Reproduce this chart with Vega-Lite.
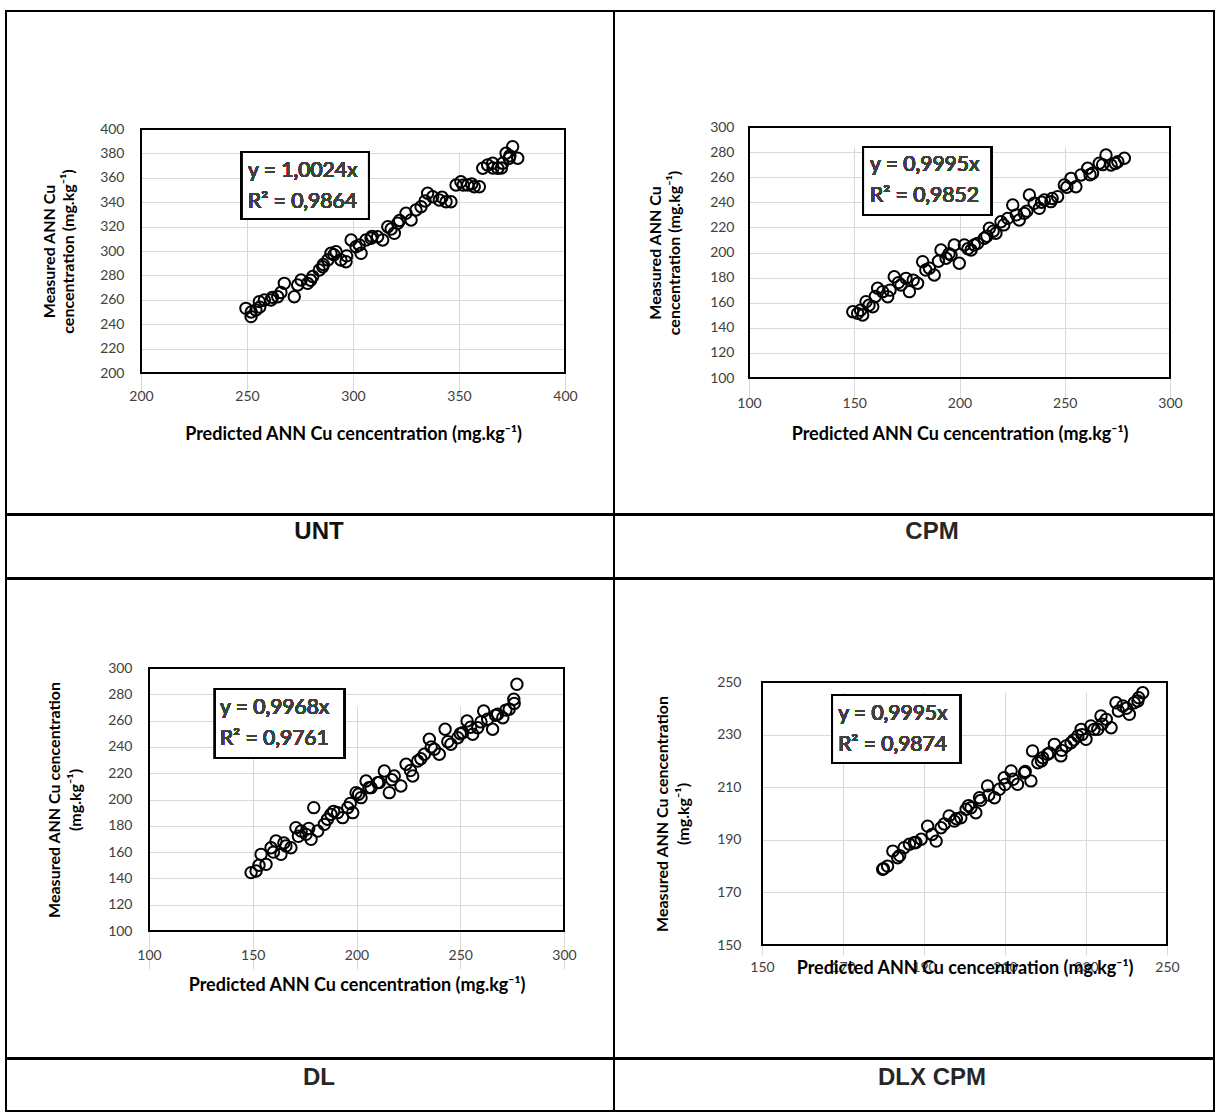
{
  "$schema": "https://vega.github.io/schema/vega-lite/v6.json",
  "background": "white",
  "padding": {"left": 5, "top": 10, "right": 3, "bottom": 3},
  "spacing": -2,
  "config": {
    "view": {"stroke": "black", "strokeWidth": 2},
    "axis": {"labelFont": "Lato", "labelFontSize": 14, "labelColor": "#404040", "titleFont": "Lato", "titleFontSize": 18, "titleFontWeight": "bold", "titleColor": "#000000", "domain": false, "ticks": false, "tickSize": 0, "grid": true, "gridColor": "#d9d9d9", "gridWidth": 1, "labelFlush": false, "labelOverlap": false},
    "axisY": {"titleFontSize": 16},
    "text": {"font": "Lato"}
  },
  "datasets": {
    "unt": [
      {"predicted": 249.5, "measured": 253.0}, {"predicted": 251.9, "measured": 246.2}, {"predicted": 254.2, "measured": 251.6}, {"predicted": 255.8, "measured": 258.5}, {"predicted": 258.2, "measured": 259.8}, {"predicted": 261.3, "measured": 259.8}, {"predicted": 264.5, "measured": 262.5}, {"predicted": 267.6, "measured": 273.5}, {"predicted": 272.3, "measured": 262.5}, {"predicted": 273.9, "measured": 272.1}, {"predicted": 275.5, "measured": 276.2}, {"predicted": 278.6, "measured": 273.5}, {"predicted": 281.0, "measured": 279.1}, {"predicted": 284.1, "measured": 284.4}, {"predicted": 285.7, "measured": 287.1}, {"predicted": 288.1, "measured": 292.6}, {"predicted": 289.6, "measured": 298.1}, {"predicted": 292.0, "measured": 299.4}, {"predicted": 294.3, "measured": 292.6}, {"predicted": 296.7, "measured": 291.2}, {"predicted": 299.1, "measured": 309.0}, {"predicted": 301.4, "measured": 303.5}, {"predicted": 303.8, "measured": 298.1}, {"predicted": 306.1, "measured": 309.0}, {"predicted": 308.5, "measured": 310.4}, {"predicted": 311.6, "measured": 311.7}, {"predicted": 314.0, "measured": 309.0}, {"predicted": 316.4, "measured": 319.9}, {"predicted": 319.5, "measured": 314.5}, {"predicted": 321.1, "measured": 322.7}, {"predicted": 325.0, "measured": 330.9}, {"predicted": 327.4, "measured": 325.4}, {"predicted": 329.7, "measured": 333.6}, {"predicted": 332.1, "measured": 336.3}, {"predicted": 335.2, "measured": 347.3}, {"predicted": 337.6, "measured": 344.5}, {"predicted": 340.7, "measured": 341.8}, {"predicted": 343.9, "measured": 340.4}, {"predicted": 346.2, "measured": 340.4}, {"predicted": 348.6, "measured": 354.1}, {"predicted": 350.9, "measured": 356.8}, {"predicted": 354.1, "measured": 354.1}, {"predicted": 357.2, "measured": 352.7}, {"predicted": 359.6, "measured": 352.7}, {"predicted": 361.2, "measured": 367.8}, {"predicted": 363.5, "measured": 370.5}, {"predicted": 365.9, "measured": 371.9}, {"predicted": 368.3, "measured": 367.8}, {"predicted": 370.6, "measured": 371.9}, {"predicted": 372.2, "measured": 380.1}, {"predicted": 375.3, "measured": 385.5}, {"predicted": 377.7, "measured": 376.0}, {"predicted": 373.7, "measured": 376.0},
      {"predicted": 252, "measured": 250}, {"predicted": 256, "measured": 254}, {"predicted": 262, "measured": 262}, {"predicted": 266, "measured": 266}, {"predicted": 280, "measured": 276}, {"predicted": 286, "measured": 289}, {"predicted": 291, "measured": 297}, {"predicted": 297, "measured": 296}, {"predicted": 303, "measured": 305}, {"predicted": 309, "measured": 312}, {"predicted": 318, "measured": 318}, {"predicted": 322, "measured": 325}, {"predicted": 334, "measured": 341}, {"predicted": 342, "measured": 344}, {"predicted": 352, "measured": 354}, {"predicted": 356, "measured": 355}, {"predicted": 366, "measured": 368}, {"predicted": 374, "measured": 378}, {"predicted": 370, "measured": 368}
    ],
    "cpm": [
      {"predicted": 149.3, "measured": 152.8}, {"predicted": 151.6, "measured": 151.5}, {"predicted": 154.0, "measured": 150.2}, {"predicted": 155.6, "measured": 160.8}, {"predicted": 158.8, "measured": 156.8}, {"predicted": 161.1, "measured": 171.5}, {"predicted": 163.5, "measured": 168.8}, {"predicted": 165.9, "measured": 164.8}, {"predicted": 169.0, "measured": 180.7}, {"predicted": 172.2, "measured": 174.1}, {"predicted": 174.6, "measured": 179.4}, {"predicted": 176.2, "measured": 168.8}, {"predicted": 180.1, "measured": 175.5}, {"predicted": 182.5, "measured": 192.7}, {"predicted": 185.7, "measured": 187.5}, {"predicted": 188.0, "measured": 182.1}, {"predicted": 191.2, "measured": 202.0}, {"predicted": 193.6, "measured": 195.4}, {"predicted": 196.0, "measured": 198.0}, {"predicted": 197.5, "measured": 206.0}, {"predicted": 199.9, "measured": 191.4}, {"predicted": 202.3, "measured": 206.0}, {"predicted": 205.5, "measured": 202.0}, {"predicted": 208.6, "measured": 207.3}, {"predicted": 211.8, "measured": 211.3}, {"predicted": 214.2, "measured": 219.3}, {"predicted": 217.3, "measured": 215.3}, {"predicted": 219.7, "measured": 224.5}, {"predicted": 222.9, "measured": 227.2}, {"predicted": 225.3, "measured": 237.8}, {"predicted": 228.4, "measured": 225.9}, {"predicted": 230.8, "measured": 231.2}, {"predicted": 233.2, "measured": 245.8}, {"predicted": 235.5, "measured": 239.2}, {"predicted": 237.9, "measured": 235.2}, {"predicted": 240.3, "measured": 241.8}, {"predicted": 243.4, "measured": 240.5}, {"predicted": 246.6, "measured": 244.5}, {"predicted": 249.8, "measured": 253.8}, {"predicted": 253.0, "measured": 259.1}, {"predicted": 255.3, "measured": 252.4}, {"predicted": 257.7, "measured": 261.8}, {"predicted": 260.9, "measured": 267.1}, {"predicted": 263.2, "measured": 263.1}, {"predicted": 266.4, "measured": 271.1}, {"predicted": 269.6, "measured": 277.7}, {"predicted": 272.0, "measured": 269.7}, {"predicted": 275.2, "measured": 272.4}, {"predicted": 278.3, "measured": 275.1},
      {"predicted": 153, "measured": 154}, {"predicted": 157, "measured": 158}, {"predicted": 160, "measured": 165}, {"predicted": 167, "measured": 170}, {"predicted": 171, "measured": 176}, {"predicted": 178, "measured": 178}, {"predicted": 184, "measured": 186}, {"predicted": 190, "measured": 193}, {"predicted": 195, "measured": 199}, {"predicted": 204, "measured": 203}, {"predicted": 207, "measured": 206}, {"predicted": 213, "measured": 213}, {"predicted": 216, "measured": 217}, {"predicted": 221, "measured": 222}, {"predicted": 227, "measured": 230}, {"predicted": 232, "measured": 233}, {"predicted": 239, "measured": 240}, {"predicted": 244, "measured": 243}, {"predicted": 251, "measured": 252}, {"predicted": 262, "measured": 262}, {"predicted": 268, "measured": 270}, {"predicted": 274, "measured": 271}
    ],
    "dl": [
      {"predicted": 149.2, "measured": 144.4}, {"predicted": 151.6, "measured": 145.6}, {"predicted": 154.0, "measured": 158.3}, {"predicted": 156.4, "measured": 150.7}, {"predicted": 158.8, "measured": 163.3}, {"predicted": 161.2, "measured": 168.4}, {"predicted": 163.6, "measured": 158.3}, {"predicted": 166.0, "measured": 164.6}, {"predicted": 168.4, "measured": 163.3}, {"predicted": 170.8, "measured": 178.6}, {"predicted": 173.3, "measured": 176.0}, {"predicted": 175.7, "measured": 173.5}, {"predicted": 178.1, "measured": 169.7}, {"predicted": 179.4, "measured": 193.8}, {"predicted": 181.3, "measured": 176.0}, {"predicted": 184.5, "measured": 181.1}, {"predicted": 187.7, "measured": 188.7}, {"predicted": 190.9, "measured": 190.0}, {"predicted": 193.3, "measured": 186.2}, {"predicted": 195.8, "measured": 193.8}, {"predicted": 198.2, "measured": 190.0}, {"predicted": 199.8, "measured": 205.2}, {"predicted": 202.2, "measured": 201.4}, {"predicted": 204.6, "measured": 214.1}, {"predicted": 207.0, "measured": 209.0}, {"predicted": 210.2, "measured": 212.8}, {"predicted": 213.4, "measured": 221.7}, {"predicted": 215.8, "measured": 205.2}, {"predicted": 218.2, "measured": 217.9}, {"predicted": 221.4, "measured": 210.3}, {"predicted": 223.9, "measured": 226.8}, {"predicted": 227.1, "measured": 217.9}, {"predicted": 229.5, "measured": 229.3}, {"predicted": 232.7, "measured": 234.4}, {"predicted": 235.1, "measured": 245.8}, {"predicted": 237.5, "measured": 238.2}, {"predicted": 239.9, "measured": 234.4}, {"predicted": 242.7, "measured": 253.4}, {"predicted": 245.5, "measured": 242.0}, {"predicted": 248.8, "measured": 247.0}, {"predicted": 251.2, "measured": 250.8}, {"predicted": 253.3, "measured": 259.7}, {"predicted": 256.0, "measured": 249.6}, {"predicted": 258.4, "measured": 254.6}, {"predicted": 261.3, "measured": 267.3}, {"predicted": 263.2, "measured": 261.0}, {"predicted": 265.6, "measured": 253.4}, {"predicted": 268.0, "measured": 264.8}, {"predicted": 270.5, "measured": 262.2}, {"predicted": 273.6, "measured": 268.6}, {"predicted": 275.8, "measured": 276.2}, {"predicted": 277.3, "measured": 287.6},
      {"predicted": 153, "measured": 150}, {"predicted": 160, "measured": 160}, {"predicted": 165, "measured": 167}, {"predicted": 172, "measured": 172}, {"predicted": 177, "measured": 178}, {"predicted": 186, "measured": 185}, {"predicted": 189, "measured": 191}, {"predicted": 197, "measured": 197}, {"predicted": 201, "measured": 204}, {"predicted": 206, "measured": 209}, {"predicted": 211, "measured": 213}, {"predicted": 217, "measured": 215}, {"predicted": 226, "measured": 222}, {"predicted": 231, "measured": 231}, {"predicted": 236, "measured": 240}, {"predicted": 244, "measured": 244}, {"predicted": 250, "measured": 250}, {"predicted": 255, "measured": 255}, {"predicted": 260, "measured": 259}, {"predicted": 267, "measured": 264}, {"predicted": 272, "measured": 268}, {"predicted": 276, "measured": 273}
    ],
    "dlx": [
      {"predicted": 179.8, "measured": 178.8}, {"predicted": 181.0, "measured": 180.0}, {"predicted": 182.3, "measured": 185.7}, {"predicted": 183.5, "measured": 183.2}, {"predicted": 185.1, "measured": 187.0}, {"predicted": 186.4, "measured": 188.3}, {"predicted": 187.6, "measured": 188.9}, {"predicted": 189.3, "measured": 190.2}, {"predicted": 190.9, "measured": 195.2}, {"predicted": 193.0, "measured": 189.5}, {"predicted": 194.2, "measured": 194.6}, {"predicted": 196.2, "measured": 199.1}, {"predicted": 197.5, "measured": 197.1}, {"predicted": 199.1, "measured": 198.4}, {"predicted": 200.4, "measured": 201.6}, {"predicted": 201.6, "measured": 202.2}, {"predicted": 202.8, "measured": 200.3}, {"predicted": 203.7, "measured": 206.0}, {"predicted": 205.7, "measured": 210.5}, {"predicted": 207.4, "measured": 206.0}, {"predicted": 208.6, "measured": 209.2}, {"predicted": 209.8, "measured": 213.6}, {"predicted": 211.5, "measured": 216.2}, {"predicted": 213.1, "measured": 211.1}, {"predicted": 214.8, "measured": 215.5}, {"predicted": 216.4, "measured": 212.4}, {"predicted": 216.8, "measured": 223.8}, {"predicted": 218.1, "measured": 219.3}, {"predicted": 219.3, "measured": 221.2}, {"predicted": 220.5, "measured": 222.5}, {"predicted": 222.2, "measured": 226.3}, {"predicted": 223.8, "measured": 221.9}, {"predicted": 225.1, "measured": 225.7}, {"predicted": 226.3, "measured": 226.9}, {"predicted": 228.0, "measured": 229.5}, {"predicted": 228.8, "measured": 232.0}, {"predicted": 230.0, "measured": 228.2}, {"predicted": 231.2, "measured": 233.3}, {"predicted": 232.9, "measured": 232.0}, {"predicted": 233.7, "measured": 237.1}, {"predicted": 235.0, "measured": 235.8}, {"predicted": 236.2, "measured": 232.6}, {"predicted": 237.4, "measured": 242.1}, {"predicted": 239.1, "measured": 240.9}, {"predicted": 240.7, "measured": 237.7}, {"predicted": 241.9, "measured": 242.1}, {"predicted": 242.8, "measured": 242.8}, {"predicted": 244.0, "measured": 245.9},
      {"predicted": 180, "measured": 179}, {"predicted": 184, "measured": 184}, {"predicted": 188, "measured": 189}, {"predicted": 192, "measured": 192}, {"predicted": 195, "measured": 196}, {"predicted": 198, "measured": 198}, {"predicted": 201, "measured": 203}, {"predicted": 204, "measured": 205}, {"predicted": 206, "measured": 207}, {"predicted": 210, "measured": 211}, {"predicted": 212, "measured": 213}, {"predicted": 215, "measured": 216}, {"predicted": 219, "measured": 220}, {"predicted": 221, "measured": 223}, {"predicted": 224, "measured": 224}, {"predicted": 227, "measured": 228}, {"predicted": 229, "measured": 230}, {"predicted": 232, "measured": 232}, {"predicted": 234, "measured": 234}, {"predicted": 238, "measured": 239}, {"predicted": 240, "measured": 240}, {"predicted": 243, "measured": 244}
    ],
    "lab_unt": [{"label": "UNT"}],
    "lab_cpm": [{"label": "CPM"}],
    "lab_dl": [{"label": "DL"}],
    "lab_dlx": [{"label": "DLX CPM"}]
  },
  "vconcat": [
    {
      "hconcat": [
        {
          "width": 608, "height": 503,
          "data": {"name": "unt"},
          "layer": [
            {
              "mark": {"type": "point", "shape": "circle", "filled": false, "stroke": "black", "strokeWidth": 2, "size": 130, "opacity": 1},
              "encoding": {
                "x": {"field": "predicted", "type": "quantitative", "scale": {"domain": [200, 400], "range": [135, 559], "nice": false, "zero": false}, "axis": {"values": [200, 250, 300, 350, 400], "offset": -141, "labelPadding": 16, "title": "Predicted ANN Cu cencentration (mg.kg⁻¹)", "titlePadding": 22}},
                "y": {"field": "measured", "type": "quantitative", "scale": {"domain": [200, 400], "range": [362, 118], "nice": false, "zero": false}, "axis": {"values": [200, 220, 240, 260, 280, 300, 320, 340, 360, 380, 400], "offset": -135, "labelPadding": 17, "title": ["Measured ANN Cu", "cencentration (mg.kg⁻¹)"], "titlePadding": 23, "titleLineHeight": 19}}
              }
            },
            {
              "mark": {"type": "rect", "fill": "transparent", "stroke": "black", "strokeWidth": 2},
              "encoding": {"x": {"datum": 200, "type": "quantitative"}, "x2": {"datum": 400}, "y": {"datum": 200, "type": "quantitative"}, "y2": {"datum": 400}}
            },
            {
              "mark": {"type": "rect", "fill": "white", "stroke": "black", "strokeWidth": 2},
              "encoding": {"x": {"datum": 247.6, "type": "quantitative"}, "x2": {"datum": 307.5}, "y": {"datum": 381.1, "type": "quantitative"}, "y2": {"datum": 326.2}}
            },
            {
              "mark": {"type": "text", "align": "left", "baseline": "middle", "fontSize": 21, "fontWeight": "normal", "lineHeight": 31, "color": "#404040"},
              "encoding": {"x": {"datum": 250.5, "type": "quantitative"}, "y": {"datum": 365.5, "type": "quantitative"}, "text": {"value": ["y = 1,0024x", "R² = 0,9864"]}}
            }
          ]
        },
        {
          "width": 600, "height": 503,
          "data": {"name": "cpm"},
          "layer": [
            {
              "mark": {"type": "point", "shape": "circle", "filled": false, "stroke": "black", "strokeWidth": 2, "size": 130, "opacity": 1},
              "encoding": {
                "x": {"field": "predicted", "type": "quantitative", "scale": {"domain": [100, 300], "range": [135, 556], "nice": false, "zero": false}, "axis": {"values": [100, 150, 200, 250, 300], "offset": -136, "labelPadding": 18, "title": "Predicted ANN Cu cencentration (mg.kg⁻¹)", "titlePadding": 15}},
                "y": {"field": "measured", "type": "quantitative", "scale": {"domain": [100, 300], "range": [367, 116], "nice": false, "zero": false}, "axis": {"values": [100, 120, 140, 160, 180, 200, 220, 240, 260, 280, 300], "offset": -135, "labelPadding": 15, "title": ["Measured ANN Cu", "cencentration (mg.kg⁻¹)"], "titlePadding": 27, "titleLineHeight": 19}}
              }
            },
            {
              "mark": {"type": "rect", "fill": "transparent", "stroke": "black", "strokeWidth": 2},
              "encoding": {"x": {"datum": 100, "type": "quantitative"}, "x2": {"datum": 300}, "y": {"datum": 100, "type": "quantitative"}, "y2": {"datum": 300}}
            },
            {
              "mark": {"type": "rect", "fill": "white", "stroke": "black", "strokeWidth": 2},
              "encoding": {"x": {"datum": 154.2, "type": "quantitative"}, "x2": {"datum": 215.0}, "y": {"datum": 284.1, "type": "quantitative"}, "y2": {"datum": 229.9}}
            },
            {
              "mark": {"type": "text", "align": "left", "baseline": "middle", "fontSize": 21, "fontWeight": "normal", "lineHeight": 31, "color": "#404040"},
              "encoding": {"x": {"datum": 157.5, "type": "quantitative"}, "y": {"datum": 269.4, "type": "quantitative"}, "text": {"value": ["y = 0,9995x", "R² = 0,9852"]}}
            }
          ]
        }
      ],
      "spacing": 0, "bounds": "flush"
    },
    {
      "hconcat": [
        {"width": 608, "height": 63, "data": {"name": "lab_unt"}, "layer": [
          {"mark": {"type": "rect", "fill": "transparent", "stroke": "black", "strokeWidth": 2}, "encoding": {}},
          {"mark": {"type": "text", "font": "Liberation Sans", "fontWeight": "bold", "fontSize": 24, "color": "#111111", "dx": 9, "dy": -15}, "encoding": {"text": {"field": "label"}}}
        ]},
        {"width": 600, "height": 63, "data": {"name": "lab_cpm"}, "layer": [
          {"mark": {"type": "rect", "fill": "transparent", "stroke": "black", "strokeWidth": 2}, "encoding": {}},
          {"mark": {"type": "text", "font": "Liberation Sans", "fontWeight": "bold", "fontSize": 24, "color": "#262626", "dx": 18, "dy": -15}, "encoding": {"text": {"field": "label"}}}
        ]}
      ],
      "spacing": 0, "bounds": "flush"
    },
    {
      "hconcat": [
        {
          "width": 608, "height": 479,
          "data": {"name": "dl"},
          "layer": [
            {
              "mark": {"type": "point", "shape": "circle", "filled": false, "stroke": "black", "strokeWidth": 2, "size": 130, "opacity": 1},
              "encoding": {
                "x": {"field": "predicted", "type": "quantitative", "scale": {"domain": [100, 300], "range": [143, 558], "nice": false, "zero": false}, "axis": {"values": [100, 150, 200, 250, 300], "offset": -127, "labelPadding": 17, "title": "Predicted ANN Cu cencentration (mg.kg⁻¹)", "titlePadding": 14}},
                "y": {"field": "measured", "type": "quantitative", "scale": {"domain": [100, 300], "range": [352, 89], "nice": false, "zero": false}, "axis": {"values": [100, 120, 140, 160, 180, 200, 220, 240, 260, 280, 300], "offset": -143, "labelPadding": 17, "title": ["Measured ANN Cu cencentration", "(mg.kg⁻¹)"], "titlePadding": 24, "titleLineHeight": 21}}
              }
            },
            {
              "mark": {"type": "rect", "fill": "transparent", "stroke": "black", "strokeWidth": 2},
              "encoding": {"x": {"datum": 100, "type": "quantitative"}, "x2": {"datum": 300}, "y": {"datum": 100, "type": "quantitative"}, "y2": {"datum": 300}}
            },
            {
              "mark": {"type": "rect", "fill": "white", "stroke": "black", "strokeWidth": 2},
              "encoding": {"x": {"datum": 131.8, "type": "quantitative"}, "x2": {"datum": 194.0}, "y": {"datum": 284.0, "type": "quantitative"}, "y2": {"datum": 231.6}}
            },
            {
              "mark": {"type": "text", "align": "left", "baseline": "middle", "fontSize": 21, "fontWeight": "normal", "lineHeight": 31, "color": "#404040"},
              "encoding": {"x": {"datum": 134.2, "type": "quantitative"}, "y": {"datum": 269.6, "type": "quantitative"}, "text": {"value": ["y = 0,9968x", "R² = 0,9761"]}}
            }
          ]
        },
        {
          "width": 600, "height": 479,
          "data": {"name": "dlx"},
          "layer": [
            {
              "mark": {"type": "point", "shape": "circle", "filled": false, "stroke": "black", "strokeWidth": 2, "size": 130, "opacity": 1},
              "encoding": {
                "x": {"field": "predicted", "type": "quantitative", "scale": {"domain": [150, 250], "range": [148, 553], "nice": false, "zero": false}, "axis": {"values": [150, 170, 190, 210, 230, 250], "offset": -113, "labelPadding": 15, "title": "Predicted ANN Cu cencentration (mg.kg⁻¹)", "titlePadding": -15}},
                "y": {"field": "measured", "type": "quantitative", "scale": {"domain": [150, 250], "range": [366, 103], "nice": false, "zero": false}, "axis": {"values": [150, 170, 190, 210, 230, 250], "offset": -148, "labelPadding": 21, "title": ["Measured ANN Cu cencentration", "(mg.kg⁻¹)"], "titlePadding": 25, "titleLineHeight": 21}}
              }
            },
            {
              "mark": {"type": "rect", "fill": "transparent", "stroke": "black", "strokeWidth": 2},
              "encoding": {"x": {"datum": 150, "type": "quantitative"}, "x2": {"datum": 250}, "y": {"datum": 150, "type": "quantitative"}, "y2": {"datum": 250}}
            },
            {
              "mark": {"type": "rect", "fill": "white", "stroke": "black", "strokeWidth": 2},
              "encoding": {"x": {"datum": 167.3, "type": "quantitative"}, "x2": {"datum": 198.9}, "y": {"datum": 245.1, "type": "quantitative"}, "y2": {"datum": 219.2}}
            },
            {
              "mark": {"type": "text", "align": "left", "baseline": "middle", "fontSize": 21, "fontWeight": "normal", "lineHeight": 31, "color": "#404040"},
              "encoding": {"x": {"datum": 168.8, "type": "quantitative"}, "y": {"datum": 238.0, "type": "quantitative"}, "text": {"value": ["y = 0,9995x", "R² = 0,9874"]}}
            }
          ]
        }
      ],
      "spacing": 0, "bounds": "flush"
    },
    {
      "hconcat": [
        {"width": 608, "height": 52, "data": {"name": "lab_dl"}, "layer": [
          {"mark": {"type": "rect", "fill": "transparent", "stroke": "black", "strokeWidth": 2}, "encoding": {}},
          {"mark": {"type": "text", "font": "Liberation Sans", "fontWeight": "bold", "fontSize": 24, "color": "#262626", "dx": 9, "dy": -7}, "encoding": {"text": {"field": "label"}}}
        ]},
        {"width": 600, "height": 52, "data": {"name": "lab_dlx"}, "layer": [
          {"mark": {"type": "rect", "fill": "transparent", "stroke": "black", "strokeWidth": 2}, "encoding": {}},
          {"mark": {"type": "text", "font": "Liberation Sans", "fontWeight": "bold", "fontSize": 24, "color": "#262626", "dx": 18, "dy": -7}, "encoding": {"text": {"field": "label"}}}
        ]}
      ],
      "spacing": 0, "bounds": "flush"
    }
  ]
}
